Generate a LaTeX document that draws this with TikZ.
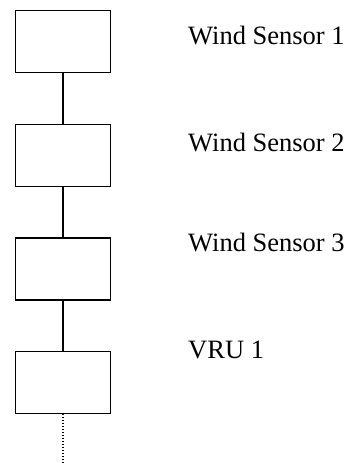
\documentclass[tikz,border=0pt]{standalone}
\usepackage{fontspec}
\setmainfont{Liberation Serif}
\usetikzlibrary{positioning}

\begin{document}
\begin{tikzpicture}[
    x=1pt, y=1pt,
    unit/.style={draw, line width=1.6pt, minimum width=95pt, minimum height=62pt, inner sep=0pt},
    link/.style={line width=1.6pt},
    tag/.style={font=\fontsize{26.5}{30}\selectfont, anchor=base west, inner sep=0pt}
]
\useasboundingbox (0,0) rectangle (348,463);

% Chain of units
\node[unit] (ws1) at (63, 421.5) {};
\node[unit] (ws2) at (63, 307.5) {};
\node[unit] (ws3) at (63, 194) {};
\node[unit] (vru1) at (63, 80.5) {};

% Links between units
\draw[link] (ws1.south) -- (ws2.north);
\draw[link] (ws2.south) -- (ws3.north);
\draw[link] (ws3.south) -- (vru1.north);

% Continuation
\coordinate (tail) at (63, 0);
\draw[line width=1.2pt, dash pattern=on 1.2pt off 1.8pt] (vru1.south) -- (tail);

% Names
\node[tag] (t1) at (188, 418) {Wind Sensor 1};
\node[tag] (t2) at (188, 311) {Wind Sensor 2};
\node[tag] (t3) at (188, 211) {Wind Sensor 3};
\node[tag] (t4) at (188, 104) {VRU 1};

\end{tikzpicture}
\end{document}
